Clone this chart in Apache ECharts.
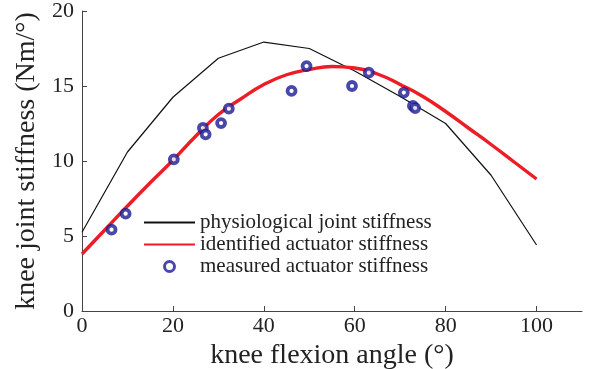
<!DOCTYPE html>
<html>
<head>
<meta charset="utf-8">
<script src="https://cdn.jsdelivr.net/npm/echarts@6/dist/echarts.min.js"></script>
<style>
  html, body { margin: 0; padding: 0; background: #fff; }
  #main { width: 591px; height: 369px; }
</style>
</head>
<body>
<div id="main"></div>
<script>
// physiological curve (knee angle, stiffness)
var physAngle = [0, 10, 20, 30, 40, 50, 60, 70, 80, 90, 100];
var physStiff = [5.25, 10.6, 14.25, 16.85, 17.93, 17.5, 16.0, 14.3, 12.5, 9.05, 4.4];

// identified actuator stiffness (fitted curve)
var fitAngle = [0, 5, 10, 15, 20, 25, 30, 35, 40, 45, 50, 55, 60, 65, 70, 75, 80, 85, 90, 95, 100];
var fitStiff = [3.8, 5.4, 7.0, 8.55, 10.05, 11.65, 13.1, 14.15, 15.1, 15.75, 16.1, 16.3, 16.2, 15.8, 15.1, 14.3, 13.3, 12.2, 11.1, 9.95, 8.8];

// measured points
var measAngle = [6.5, 9.6, 20.2, 26.6, 27.2, 30.6, 32.3, 46.1, 49.4, 59.4, 63.1, 70.8, 72.8, 73.3];
var measStiff = [5.42, 6.49, 10.11, 12.2, 11.78, 12.53, 13.49, 14.67, 16.33, 15.0, 15.89, 14.56, 13.67, 13.53];

var xTicks = [0, 20, 40, 60, 80, 100];
var yTicks = [0, 5, 10, 15, 20];

function pairs(xs, ys) {
  var out = [];
  for (var i = 0; i < xs.length; i++) out.push([xs[i], ys[i]]);
  return out;
}

var font = 'Liberation Serif';
var txt = '#222';
var markColor = '#1a1a92';
var myChart = echarts.init(document.getElementById('main'));
var option = {
  animation: false,
  textStyle: { fontFamily: font },
  grid: { left: 82, right: 9, top: 11, bottom: 58, outerBoundsMode: 'none' },
  legend: {
    orient: 'vertical',
    left: 143,
    top: 212,
    padding: 0,
    itemWidth: 51,
    itemHeight: 10,
    itemGap: 1,
    textStyle: { fontFamily: font, fontSize: 21, color: txt },
    data: [
      { name: 'physiological joint stiffness', itemStyle: { opacity: 0 } },
      { name: 'identified actuator stiffness', itemStyle: { opacity: 0 } },
      { name: 'measured actuator stiffness', itemStyle: { color: '#fff', borderColor: markColor, borderWidth: 3 } }
    ]
  },
  xAxis: {
    type: 'value',
    min: 0,
    max: 110,
    interval: 20,
    name: 'knee flexion angle (°)',
    nameLocation: 'middle',
    nameGap: 30,
    nameTextStyle: { fontFamily: font, fontSize: 28, color: txt },
    axisLine: { lineStyle: { color: '#444', width: 1 } },
    axisTick: { inside: true, length: 5, customValues: xTicks, lineStyle: { color: '#444' } },
    axisLabel: { customValues: xTicks, fontFamily: font, fontSize: 22, color: txt, margin: 4 },
    splitLine: { show: false }
  },
  yAxis: {
    type: 'value',
    min: 0,
    max: 20,
    interval: 5,
    name: 'knee joint stiffness (Nm/°)',
    nameLocation: 'middle',
    nameGap: 40,
    nameTextStyle: { fontFamily: font, fontSize: 28, color: txt },
    axisLine: { show: true, lineStyle: { color: '#444', width: 1 } },
    axisTick: { show: true, inside: true, length: 5, customValues: yTicks, lineStyle: { color: '#444' } },
    axisLabel: { customValues: yTicks, fontFamily: font, fontSize: 22, color: txt, margin: 8 },
    splitLine: { show: false }
  },
  series: [
    {
      name: 'physiological joint stiffness',
      type: 'line',
      data: pairs(physAngle, physStiff),
      symbol: 'none',
      lineStyle: { color: '#111', width: 1.2 },
      itemStyle: { color: '#111' },
      z: 2
    },
    {
      name: 'identified actuator stiffness',
      type: 'line',
      smooth: true,
      data: pairs(fitAngle, fitStiff),
      symbol: 'none',
      lineStyle: { color: '#ee1c24', width: 3.4 },
      itemStyle: { color: '#ee1c24' },
      z: 3
    },
    {
      name: 'measured actuator stiffness',
      type: 'scatter',
      data: pairs(measAngle, measStiff),
      symbol: 'circle',
      symbolSize: 8,
      itemStyle: { color: '#fff', borderColor: markColor, borderWidth: 3.8 },
      z: 4
    }
  ]
};
myChart.setOption(option);
</script>
</body>
</html>
